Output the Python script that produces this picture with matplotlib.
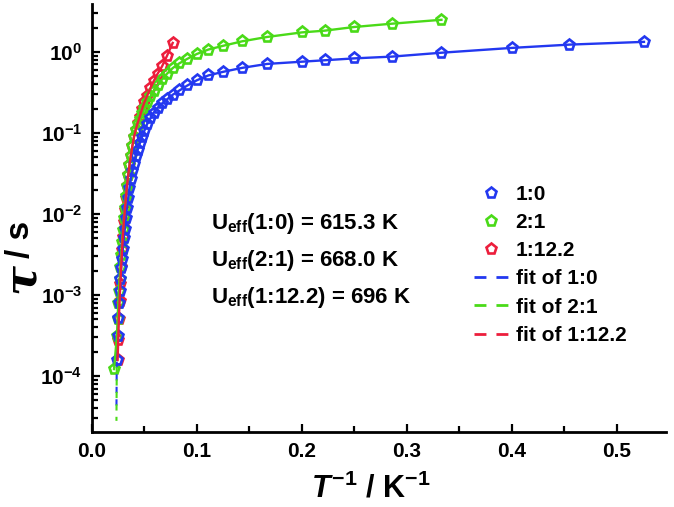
import matplotlib
matplotlib.use("Agg")
import matplotlib.pyplot as plt
from matplotlib.lines import Line2D
from matplotlib.ticker import MultipleLocator, LogLocator, NullFormatter

plt.rcParams['font.family'] = ['Liberation Sans', 'DejaVu Sans']
plt.rcParams['font.weight'] = 'bold'
plt.rcParams['mathtext.fontset'] = 'custom'
plt.rcParams['mathtext.rm'] = 'Liberation Sans:bold'
plt.rcParams['mathtext.it'] = 'Liberation Sans:bold:italic'
plt.rcParams['mathtext.bf'] = 'Liberation Sans:bold'

# ---- data (x = 1/T in K^-1, y = tau in s) ----
blue_x = [0.0238, 0.0244, 0.025, 0.0256, 0.0263, 0.027, 0.0278, 0.0286, 0.0294, 0.0303,
          0.0313, 0.0323, 0.0333, 0.0345, 0.0357, 0.037, 0.0385, 0.04, 0.0417, 0.0435,
          0.0455, 0.0476, 0.05, 0.0526, 0.0556, 0.0588, 0.0625, 0.0667, 0.0714, 0.0769,
          0.0833, 0.0909, 0.1, 0.111, 0.125, 0.143, 0.167, 0.2, 0.222, 0.25,
          0.286, 0.333, 0.4, 0.455, 0.526]
blue_tau = [1.58e-4, 3.16e-4, 5.25e-4, 7.9e-4, 1.12e-3, 1.58e-3, 2.14e-3, 2.82e-3, 3.72e-3, 5.0e-3,
            6.6e-3, 8.9e-3, 0.0120, 0.0158, 0.0209, 0.0269, 0.0339, 0.0417, 0.0513, 0.0617,
            0.0741, 0.0891, 0.107, 0.129, 0.151, 0.178, 0.204, 0.231, 0.259, 0.296,
            0.334, 0.385, 0.447, 0.513, 0.568, 0.635, 0.711, 0.757, 0.789, 0.832,
            0.875, 0.977, 1.12, 1.23, 1.33]

green_x = [0.021, 0.0238, 0.0244, 0.025, 0.0256, 0.0263, 0.027, 0.0278, 0.0286, 0.0294,
           0.0303, 0.0313, 0.0323, 0.0333, 0.0345, 0.0357, 0.037, 0.0385, 0.04, 0.0417,
           0.0435, 0.0455, 0.0476, 0.05, 0.0526, 0.0556, 0.0588, 0.0625, 0.0667, 0.0714,
           0.0769, 0.0833, 0.0909, 0.1, 0.111, 0.125, 0.143, 0.167, 0.2, 0.222,
           0.25, 0.286, 0.333]
green_tau = [1.22e-4, 3.16e-4, 5.01e-4, 7.94e-4, 1.12e-3, 1.58e-3, 2.19e-3, 3.16e-3, 4.47e-3, 6.31e-3,
             8.91e-3, 0.0120, 0.0166, 0.0224, 0.0302, 0.0398, 0.0525, 0.0692, 0.0891, 0.110,
             0.129, 0.148, 0.174, 0.204, 0.240, 0.282, 0.331, 0.389, 0.457, 0.537,
             0.631, 0.724, 0.822, 0.944, 1.07, 1.19, 1.35, 1.53, 1.74, 1.83,
             2.03, 2.23, 2.49]

red_x = [0.0244, 0.025, 0.0256, 0.0263, 0.027, 0.0278, 0.0286, 0.0294, 0.0303, 0.0313,
         0.0323, 0.0333, 0.0345, 0.0357, 0.037, 0.0385, 0.04, 0.0417, 0.0435, 0.0455,
         0.0476, 0.05, 0.0526, 0.0556, 0.0588, 0.0625, 0.0667, 0.0714, 0.0769]
red_tau = [1.58e-4, 2.82e-4, 5.01e-4, 8.32e-4, 1.38e-3, 2.24e-3, 3.55e-3, 5.25e-3, 7.94e-3, 0.0112,
           0.0158, 0.0219, 0.0302, 0.0398, 0.0525, 0.0692, 0.0891, 0.110, 0.132, 0.158,
           0.195, 0.240, 0.288, 0.355, 0.437, 0.537, 0.661, 0.891, 1.29]

# extrapolated fit tails below the data
tail_x = [0.0236, 0.0233]
blue_tail_tau = [1.5e-4, 4.0e-5]
green_tail_tau = [1.3e-4, 2.8e-5]

labels = ['1:0', '2:1', '1:12.2']
fit_labels = ['fit of 1:0', 'fit of 2:1', 'fit of 1:12.2']
ueff_texts = [r'U$_\mathregular{eff}$(1:0) = 615.3 K',
              r'U$_\mathregular{eff}$(2:1) = 668.0 K',
              r'U$_\mathregular{eff}$(1:12.2) = 696 K']

c_blue = '#2338f0'
c_green = '#4ada18'
c_red = '#ec1e3c'

fig = plt.figure(figsize=(6.74, 5.07), dpi=100)
ax = fig.add_axes([92/674, 1 - 432/507, (666 - 92)/674, (432 - 4)/507])

mk = dict(marker='p', markersize=8, markerfacecolor='none', markeredgewidth=1.9, linestyle='none')
ax.plot(red_x, red_tau, color=c_red, **mk, zorder=2)
ax.plot(green_x, green_tau, color=c_green, **mk, zorder=2.5)
ax.plot(blue_x, blue_tau, color=c_blue, **mk, zorder=3)

ax.plot(tail_x, blue_tail_tau, color=c_blue, lw=1.5, dashes=(3, 3), zorder=4)
ax.plot(tail_x, green_tail_tau, color=c_green, lw=1.5, dashes=(3, 3), dash_capstyle='butt', zorder=4)
ax.plot(blue_x, blue_tau, color=c_blue, lw=1.7, zorder=4)
ax.plot(green_x, green_tau, color=c_green, lw=1.7, zorder=4)
ax.plot(red_x, red_tau, color=c_red, lw=1.7, zorder=5)

ax.set_yscale('log')
ax.set_xlim(0, 0.547)
ax.set_ylim(2.04e-5, 3.9)

for s in ['top', 'right']:
    ax.spines[s].set_visible(False)
for s in ['left', 'bottom']:
    ax.spines[s].set_linewidth(2)

ax.xaxis.set_major_locator(MultipleLocator(0.1))
ax.xaxis.set_minor_locator(MultipleLocator(0.05))
ax.yaxis.set_major_locator(LogLocator(base=10, numticks=20))
ax.yaxis.set_minor_locator(LogLocator(base=10, subs=range(2, 10), numticks=20))
ax.yaxis.set_minor_formatter(NullFormatter())
ax.tick_params(which='both', direction='in', width=1.6, labelsize=15, top=False, right=False)
ax.tick_params(which='major', length=6, pad=7)
ax.tick_params(which='minor', length=4)
ax.xaxis.set_major_formatter(matplotlib.ticker.FuncFormatter(lambda v, p: f'{v:.1f}'))
for lab in ax.get_xticklabels() + ax.get_yticklabels():
    lab.set_fontweight('bold')

# axis labels
fig.text(371/674, 1 - 498/507, r'$\mathit{T}^{-1}$ / K$^{-1}$', fontsize=22,
         ha='center', va='baseline', fontweight='bold')
fig.text(21/674, 1 - 278/507, 'τ', fontsize=32, rotation=90, ha='center', va='center',
         family='DejaVu Serif', fontweight='bold', style='italic')
fig.text(20/674, 1 - 239/507, '/ s', fontsize=24, rotation=90, ha='center', va='center',
         fontweight='bold')

# U_eff annotations
for i, t in enumerate(ueff_texts):
    fig.text(211/674, 1 - (229 + 37 * i)/507, t, fontsize=16, ha='left', va='baseline',
             fontweight='bold')

# legend
handles = [
    Line2D([], [], color=c_blue, marker='p', markersize=8, markerfacecolor='none', markeredgewidth=1.9, linestyle='none'),
    Line2D([], [], color=c_green, marker='p', markersize=8, markerfacecolor='none', markeredgewidth=1.9, linestyle='none'),
    Line2D([], [], color=c_red, marker='p', markersize=8, markerfacecolor='none', markeredgewidth=1.9, linestyle='none'),
    Line2D([], [], color=c_blue, lw=2, dashes=(4.3, 3.6)),
    Line2D([], [], color=c_green, lw=2, dashes=(4.3, 3.6)),
    Line2D([], [], color=c_red, lw=2, dashes=(4.3, 3.6)),
]
fig.legend(handles, labels + fit_labels, loc='upper left', bbox_to_anchor=(474/674, 1 - 185/507),
           frameon=False, borderpad=0, borderaxespad=0, handlelength=1.65, handletextpad=0.35,
           labelspacing=0.44, prop={'size': 15, 'weight': 'bold'})

fig.savefig('out.png', dpi=100)
